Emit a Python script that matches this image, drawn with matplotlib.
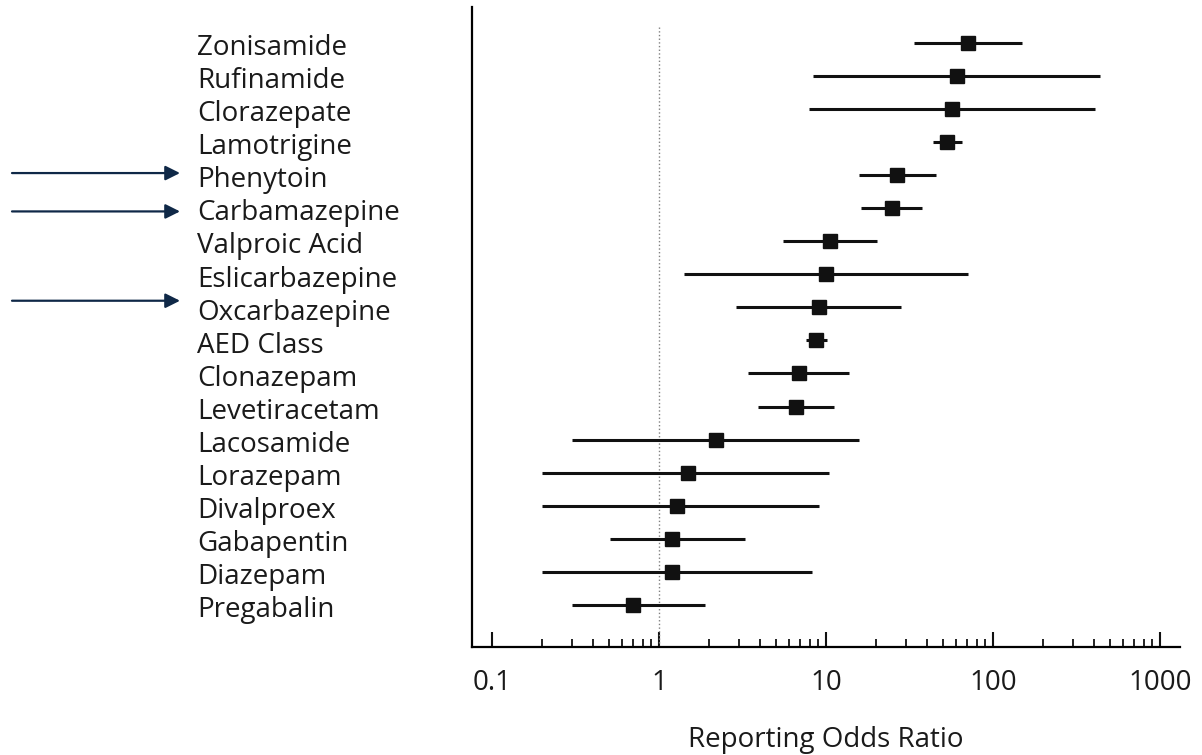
import numpy as np
import matplotlib.pyplot as plt
from matplotlib.ticker import FixedLocator, NullFormatter
from matplotlib.transforms import blended_transform_factory

plt.rcParams['font.family'] = ['Open Sans', 'DejaVu Sans']

drugs = ['Zonisamide', 'Rufinamide', 'Clorazepate', 'Lamotrigine', 'Phenytoin',
         'Carbamazepine', 'Valproic Acid', 'Eslicarbazepine', 'Oxcarbazepine',
         'AED Class', 'Clonazepam', 'Levetiracetam', 'Lacosamide', 'Lorazepam',
         'Divalproex', 'Gabapentin', 'Diazepam', 'Pregabalin']
ror = [70.8, 60.9, 56.8, 53.1, 26.6, 24.8, 10.6, 10.0, 9.08,
       8.71, 6.89, 6.59, 2.19, 1.49, 1.29, 1.20, 1.20, 0.70]
ci_low = [33.6, 8.36, 7.91, 43.7, 15.8, 16.2, 5.49, 1.41, 2.89,
          7.56, 3.40, 3.93, 0.301, 0.199, 0.20, 0.509, 0.20, 0.301]
ci_high = [149, 437, 408, 65.2, 45.3, 37.6, 20.2, 70.8, 28.1,
           10.1, 13.8, 11.2, 15.8, 10.4, 9.12, 3.27, 8.28, 1.88]
highlighted = ['Phenytoin', 'Carbamazepine', 'Oxcarbazepine']
arrow_shift = [-0.06, 0.1, -0.2]
tick_values = [0.1, 1, 10, 100, 1000]
tick_labels = ['0.1', '1', '10', '100', '1000']

fig = plt.figure(figsize=(12.02, 7.55), dpi=100)
ax = fig.add_axes([0.3927, 0.1430, 0.589, 0.8477])

rows = np.arange(len(drugs))
ror = np.array(ror)
xerr = np.array([ror - np.array(ci_low), np.array(ci_high) - ror])

# reference line at ROR = 1
ax.plot([1, 1], [-0.47, 18.27], color='#808080', lw=1, ls=':')
ax.errorbar(ror, rows, xerr=xerr, fmt='s', color='#111111', ecolor='#111111',
            elinewidth=2.2, markersize=10, capsize=0)

ax.set_xscale('log')
ax.set_xlim(0.0759, 1318)
ax.set_ylim(18.27, -1.08)

ax.spines['top'].set_visible(False)
ax.spines['right'].set_visible(False)
ax.spines['left'].set_linewidth(1.6)
ax.spines['bottom'].set_linewidth(1.6)
ax.set_yticks([])

minors = [m * d for d in [0.1, 1, 10, 100] for m in range(2, 10)]
ax.xaxis.set_major_locator(FixedLocator(tick_values))
ax.set_xticklabels(tick_labels)
ax.xaxis.set_minor_locator(FixedLocator(minors))
ax.xaxis.set_minor_formatter(NullFormatter())
ax.tick_params(axis='x', which='major', direction='in', length=11, width=1.5,
               pad=16, labelsize=20, colors='#111111', labelcolor='#1a1a1a')
ax.tick_params(axis='x', which='minor', direction='in', length=6, width=1.3,
               colors='#111111')

# drug names, left aligned in figure space
tr = blended_transform_factory(fig.transFigure, ax.transData)
for i, name in enumerate(drugs):
    ax.text(197 / 1202, i + 0.37, name, transform=tr, fontsize=20,
            ha='left', va='baseline', color='#1a1a1a', clip_on=False)

for name, shift in zip(highlighted, arrow_shift):
    i = drugs.index(name)
    ax.annotate('', xy=(180 / 1202, i + shift), xytext=(12 / 1202, i + shift),
                xycoords=('figure fraction', 'data'),
                textcoords=('figure fraction', 'data'),
                arrowprops=dict(arrowstyle='-|>', color='#0f2847', lw=1.6,
                                mutation_scale=22, shrinkA=0, shrinkB=0),
                annotation_clip=False)

fig.text(0.3927 + 0.589 / 2, 1 - 747 / 755, 'Reporting Odds Ratio', fontsize=20,
         ha='center', va='baseline', color='#1a1a1a')

fig.savefig('out.png', dpi=100)
